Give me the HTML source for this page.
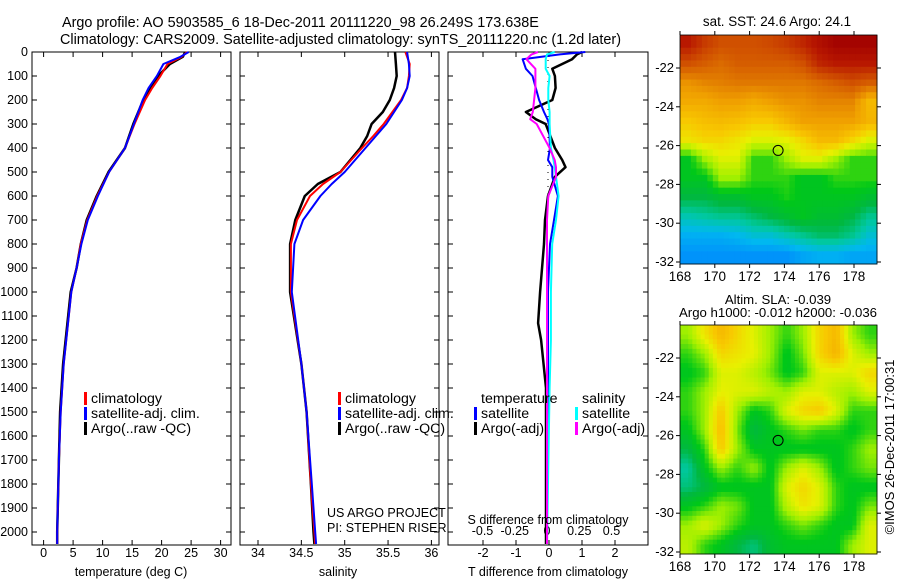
<!DOCTYPE html>
<html><head><meta charset="utf-8">
<style>
html,body{margin:0;padding:0;background:#fff;}
svg{display:block;font-family:"Liberation Sans",sans-serif;font-size:12.5px;}
.lg{font-size:14.2px;}
</style></head>
<body>
<svg id="fig" width="900" height="580" viewBox="0 0 900 580" xmlns="http://www.w3.org/2000/svg">
<text x="62" y="27" font-size="14.4">Argo profile: AO 5903585_6 18-Dec-2011 20111220_98 26.249S 173.638E</text>
<text x="60" y="44" font-size="14.4">Climatology: CARS2009. Satellite-adjusted climatology: synTS_20111220.nc (1.2d later)</text>
<text x="777" y="26" text-anchor="middle" font-size="13.4">sat. SST: 24.6  Argo: 24.1</text>
<text x="778" y="304" text-anchor="middle" font-size="13.2">Altim. SLA: -0.039</text>
<text x="778" y="317" text-anchor="middle" font-size="13.2">Argo h1000: -0.012 h2000: -0.036</text>
<text transform="translate(894,447) rotate(-90)" text-anchor="middle" font-size="13">©IMOS 26-Dec-2011 17:00:31</text>
<g id="g"></g>
</svg>
<script>
// ---- profile data (depth in m) ----
const depthT = [0,20,50,100,150,200,300,400,500,600,700,800,900,1000,1300,1500,1700,2000,2050];
const tempArgo = [24,23.6,21.4,19.4,18.2,16.9,15.2,13.8,11,9,7.3,6.3,5.6,4.6,3.3,2.8,2.6,2.3,2.3];
const tempClim = [24.3,23.4,21,19.8,18.4,17.2,15.4,13.8,11.1,9.1,7.4,6.3,5.6,4.7,3.4,2.9,2.6,2.3,2.3];
const tempSat  = [24.6,23.2,20.3,19.2,17.8,16.8,15.3,13.8,11.1,9.2,7.5,6.4,5.6,4.7,3.4,2.9,2.6,2.3,2.3];
const depthS = [0,50,100,150,200,250,300,350,400,500,550,600,700,800,1000,1300,1500,1800,2000,2050];
const salArgo = [35.58,35.59,35.6,35.57,35.52,35.44,35.31,35.26,35.18,34.95,34.69,34.54,34.43,34.37,34.37,34.5,34.56,34.61,34.64,34.65];
const salClim = [35.7,35.75,35.74,35.72,35.65,35.55,35.45,35.33,35.2,34.95,34.75,34.6,34.45,34.38,34.38,34.5,34.56,34.61,34.65,34.66];
const salSat  = [35.72,35.74,35.75,35.72,35.66,35.57,35.48,35.36,35.24,35.0,34.85,34.72,34.52,34.42,34.39,34.5,34.56,34.62,34.66,34.67];
const depthD = [0,10,30,70,100,150,200,250,280,300,400,450,480,520,600,700,800,1000,1130,1200,1400,2050];
const tDiffArgo = [1.0,0.85,0.7,0.1,0.18,0.2,0.1,-0.7,-0.4,-0.1,0.18,0.4,0.5,0.18,-0.03,-0.12,-0.15,-0.27,-0.33,-0.24,-0.09,-0.09];
const tDiffSat  = [1.1,0.33,-0.8,-0.7,-0.5,-0.4,-0.3,-0.15,-0.05,0,0.03,-0.03,0.1,0.1,0.27,0.15,0.03,-0.03,-0.03,-0.03,-0.03,-0.06];
const sDiffSat  = [0.06,0.0,-0.01,-0.01,0.02,0.01,0.01,0.02,0.02,0.02,0.03,0.05,0.06,0.07,0.09,0.07,0.04,0.03,0.03,0.03,0.02,0.0];
const sDiffArgo = [-0.07,-0.12,-0.16,-0.09,-0.09,-0.09,-0.1,-0.11,-0.13,-0.08,0.02,0.06,0.07,0.07,0.01,0.0,0.0,0.0,0.0,0.0,0.0,0.0];
const depthTicks = [0,100,200,300,400,500,600,700,800,900,1000,1100,1200,1300,1400,1500,1600,1700,1800,1900,2000];
const tempTicks = [0,5,10,15,20,25,30];
const salTicks = [34,34.5,35,35.5,36];
const tDiffTicks = [-2,-1,0,1,2];
const sDiffTicks = [-0.5,-0.25,0,0.25,0.5];
const lonTicks = [168,170,172,174,176,178];
const latTicks = [-22,-24,-26,-28,-30,-32];
// map grids (colour index 0..1), rows north->south
const sstGrid = [
[0.9,0.85,0.82,0.82,0.82,0.83,0.85,0.88,0.92,0.95,0.95,0.95],
[0.82,0.8,0.78,0.8,0.8,0.8,0.8,0.82,0.88,0.9,0.9,0.9],
[0.72,0.74,0.75,0.76,0.76,0.76,0.76,0.76,0.78,0.8,0.82,0.8],
[0.68,0.68,0.7,0.7,0.68,0.7,0.72,0.72,0.74,0.74,0.74,0.65],
[0.62,0.64,0.65,0.64,0.62,0.62,0.66,0.7,0.7,0.7,0.7,0.66],
[0.58,0.6,0.6,0.58,0.55,0.55,0.56,0.6,0.65,0.65,0.6,0.55],
[0.42,0.5,0.55,0.55,0.45,0.45,0.5,0.55,0.55,0.5,0.45,0.45],
[0.42,0.42,0.5,0.5,0.45,0.45,0.45,0.42,0.42,0.45,0.45,0.45],
[0.38,0.38,0.4,0.4,0.42,0.42,0.44,0.42,0.42,0.42,0.42,0.4],
[0.32,0.33,0.34,0.34,0.36,0.38,0.4,0.42,0.4,0.4,0.38,0.34],
[0.27,0.27,0.27,0.28,0.3,0.3,0.32,0.34,0.36,0.36,0.34,0.3],
[0.24,0.24,0.24,0.24,0.24,0.24,0.24,0.26,0.27,0.27,0.26,0.26]];
const slaGrid = [
[0.5,0.58,0.65,0.6,0.55,0.5,0.45,0.5,0.6,0.65,0.5,0.45],
[0.45,0.5,0.6,0.58,0.56,0.5,0.42,0.48,0.6,0.66,0.55,0.5],
[0.42,0.45,0.55,0.55,0.52,0.48,0.42,0.45,0.55,0.55,0.55,0.6],
[0.45,0.5,0.56,0.55,0.55,0.52,0.5,0.55,0.55,0.52,0.5,0.55],
[0.45,0.5,0.62,0.5,0.42,0.45,0.55,0.6,0.62,0.55,0.45,0.45],
[0.42,0.5,0.64,0.48,0.38,0.42,0.45,0.48,0.45,0.45,0.42,0.45],
[0.38,0.45,0.62,0.5,0.42,0.42,0.42,0.42,0.42,0.42,0.45,0.5],
[0.33,0.42,0.5,0.45,0.5,0.42,0.5,0.55,0.5,0.42,0.45,0.48],
[0.35,0.38,0.42,0.42,0.42,0.42,0.55,0.6,0.55,0.45,0.42,0.42],
[0.42,0.45,0.5,0.48,0.42,0.42,0.52,0.58,0.55,0.45,0.42,0.48],
[0.5,0.55,0.5,0.45,0.42,0.42,0.45,0.48,0.45,0.42,0.42,0.55],
[0.52,0.45,0.42,0.38,0.35,0.4,0.42,0.42,0.42,0.42,0.5,0.55]];
const floatLon = 173.638;
const floatLat = -26.249;

const NS = "http://www.w3.org/2000/svg";
const G = document.getElementById('g');
function mk(tag, attrs, parent){const e=document.createElementNS(NS,tag);for(const k in attrs)e.setAttribute(k,attrs[k]);(parent||G).appendChild(e);return e;}
function txt(x,y,s,anchor,parent){const e=mk('text',{x:x,y:y,'text-anchor':anchor||'start'},parent);e.textContent=s;return e;}

const yD = d => 52 + d*0.24;
const PT = 52, PB = 545;
const xT = t => 43.6 + t*5.9;
const xS = s => 258 + (s-34)*86.7;
const xTD = v => 549 + v*33;
const xSD = v => 547 + v*129;

function panel(name,x0,x1){
  const r=mk('rect',{x:x0,y:PT,width:x1-x0,height:PB-PT,fill:'none',stroke:'#000','stroke-width':1});
  
  
  depthTicks.forEach(d=>{
    mk('line',{x1:x0,x2:x0+5,y1:yD(d),y2:yD(d),stroke:'#000'});
    mk('line',{x1:x1-5,x2:x1,y1:yD(d),y2:yD(d),stroke:'#000'});
  });
}
function xticks(ticks,f,y,labels){
  ticks.forEach(t=>{
    mk('line',{x1:f(t),x2:f(t),y1:PT,y2:PT+5,stroke:'#000'});
    mk('line',{x1:f(t),x2:f(t),y1:PB-5,y2:PB,stroke:'#000'});
    if(labels){const e=txt(f(t),y,String(t),'middle');
      
      }
  });
}
function line(name,xs,ds,fx,color,w){
  const p=xs.map((v,i)=>fx(v).toFixed(1)+','+yD(ds[i]).toFixed(1)).join(' ');
  const e=mk('polyline',{points:p,fill:'none',stroke:color,'stroke-width':w||2,'stroke-linejoin':'round'});
  
  
}
function legendEntry(x,y,color,label){
  const g=mk('g',{});
  
  
  mk('rect',{x:x,y:y-11,width:3,height:13,fill:color},g);
  txt(x+7,y,label,'start',g).setAttribute('class','lg');
}

// Panel 1
panel('temperature-panel',32,231);
depthTicks.forEach(d=>{const e=txt(28,yD(d)+4,String(d),'end');
  
  });
xticks(tempTicks,xT,557,true);
line('temp-argo',tempArgo,depthT,xT,'#000',2.5);
line('temp-climatology',tempClim,depthT,xT,'#f00',2);
line('temp-satellite',tempSat,depthT,xT,'#00f',2);
legendEntry(84,403,'#f00','climatology');
legendEntry(84,418,'#00f','satellite-adj. clim.');
legendEntry(84,433,'#000','Argo(..raw -QC)');
txt(131,576,'temperature (deg C)','middle');

// Panel 2
panel('salinity-panel',240,439);
xticks(salTicks,xS,557,true);
line('sal-argo',salArgo,depthS,xS,'#000',2.5);
line('sal-climatology',salClim,depthS,xS,'#f00',2);
line('sal-satellite',salSat,depthS,xS,'#00f',2);
legendEntry(338,403,'#f00','climatology');
legendEntry(338,418,'#00f','satellite-adj. clim.');
legendEntry(338,433,'#000','Argo(..raw -QC)');
txt(327,517,'US ARGO PROJECT','start');
txt(327,532,'PI: STEPHEN RISER','start');
txt(338,576,'salinity','middle');

// Panel 3
panel('difference-panel',448,648);
xticks(tDiffTicks,xTD,557,true);
sDiffTicks.forEach(t=>{const e=txt(xSD(t),535,String(t),'middle');
  
  });
mk('line',{x1:548,x2:548,y1:60,y2:200,stroke:'#000','stroke-dasharray':'1,6'});
line('tdiff-argo',tDiffArgo,depthD,xTD,'#000',2.5);
line('tdiff-satellite',tDiffSat,depthD,xTD,'#00f',2);
line('sdiff-satellite',sDiffSat,depthD,xSD,'#0ff',2);
line('sdiff-argo',sDiffArgo,depthD,xSD,'#f0f',2);
txt(481,403,'temperature','start').setAttribute('class','lg');
txt(582,403,'salinity','start').setAttribute('class','lg');
legendEntry(474,418,'#00f','satellite');
legendEntry(474,433,'#000','Argo(-adj)');
legendEntry(575,418,'#0ff','satellite');
legendEntry(575,433,'#f0f','Argo(-adj)');
txt(548,524,'S difference from climatology','middle');
txt(548,576,'T difference from climatology','middle');

// colormap
const stops=[[0,[0,0,160]],[0.15,[0,64,208]],[0.22,[0,128,255]],[0.28,[0,184,240]],[0.33,[0,200,160]],[0.38,[0,184,64]],[0.43,[0,200,24]],[0.5,[160,240,0]],[0.56,[232,240,0]],[0.62,[248,200,0]],[0.7,[240,160,0]],[0.76,[224,120,0]],[0.82,[208,80,0]],[0.9,[184,24,0]],[0.96,[160,0,0]],[1,[150,0,0]]];
function cmap(v){
  for(let i=1;i<stops.length;i++){if(v<=stops[i][0]){const a=stops[i-1],b=stops[i];const f=(v-a[0])/(b[0]-a[0]);
    return 'rgb('+a[1].map((c,k)=>Math.round(c+(b[1][k]-c)*f)).join(',')+')';}}
  return 'rgb(150,0,0)';
}
function sample(grid,r,c){ // bilinear in cell-centre coords
  const nr=grid.length,nc=grid[0].length;
  r=Math.max(0,Math.min(nr-1,r));c=Math.max(0,Math.min(nc-1,c));
  const r0=Math.floor(r),c0=Math.floor(c),r1=Math.min(nr-1,r0+1),c1=Math.min(nc-1,c0+1),fr=r-r0,fc=c-c0;
  return grid[r0][c0]*(1-fr)*(1-fc)+grid[r0][c1]*(1-fr)*fc+grid[r1][c0]*fr*(1-fc)+grid[r1][c1]*fr*fc;
}
function map(name,grid,top,bottom,lat22y,lat32y,sub){
  const L=680,R=877;
  const xL=lon=>680+(lon-168)*17.4;
  const yL=lat=>lat22y+(-22-lat)*(lat32y-lat22y)/10;
  const g=mk('g',{});
  
  
  const nr=grid.length,nc=grid[0].length,NR=nr*sub,NC=nc*sub,cw=(R-L)/NC,ch=(bottom-top)/NR;
  for(let i=0;i<NR;i++)for(let j=0;j<NC;j++){
    const v=sample(grid,(i+0.5)/sub-0.5,(j+0.5)/sub-0.5);
    const c=mk('rect',{x:(L+j*cw).toFixed(2),y:(top+i*ch).toFixed(2),width:(cw+0.5).toFixed(2),height:(ch+0.5).toFixed(2),fill:cmap(v)},g);
    
    
  }
  mk('rect',{x:L,y:top,width:R-L,height:bottom-top,fill:'none',stroke:'#000','stroke-width':0.8},g);
  lonTicks.forEach(t=>{mk('line',{x1:xL(t),x2:xL(t),y1:top-4,y2:top,stroke:'#000'},g);
    mk('line',{x1:xL(t),x2:xL(t),y1:bottom,y2:bottom+4,stroke:'#000'},g);
    txt(xL(t),bottom+17,String(t),'middle',g).setAttribute('font-size','13.5');});
  latTicks.forEach(t=>{mk('line',{x1:L-4,x2:L,y1:yL(t),y2:yL(t),stroke:'#000'},g);
    mk('line',{x1:R,x2:R+4,y1:yL(t),y2:yL(t),stroke:'#000'},g);
    txt(L-6,yL(t)+4,String(t),'end',g).setAttribute('font-size','13');});
  const m=mk('circle',{cx:xL(floatLon),cy:yL(floatLat),r:5,fill:'none',stroke:'#000','stroke-width':1},g);
  
  
}
map('sst-map',sstGrid,35,264,68,262,3);
map('sla-map',slaGrid,325,554,358,552,4);
</script>
</body></html>
